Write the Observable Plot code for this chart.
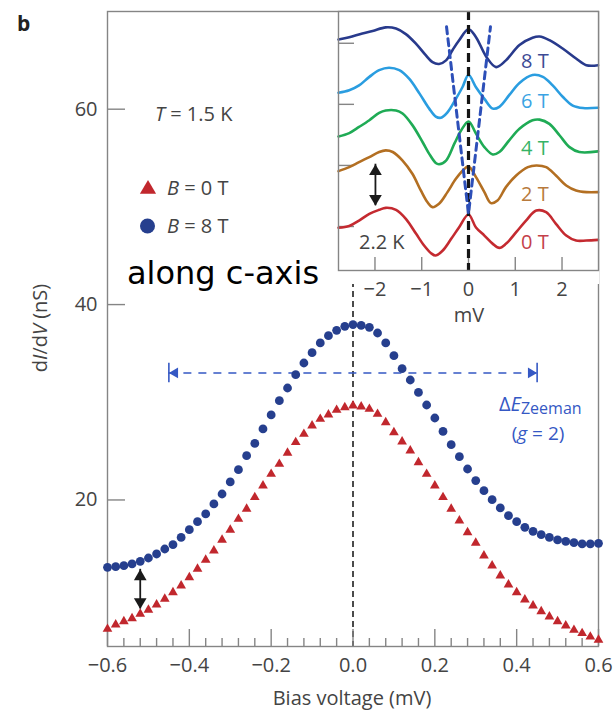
<!DOCTYPE html>
<html><head><meta charset="utf-8">
<script src="https://cdn.jsdelivr.net/npm/d3@7"></script>
<script src="https://cdn.jsdelivr.net/npm/@observablehq/plot@0.6"></script>
<style>
body{margin:0;background:#fff;}
#wrap{position:relative;width:615px;height:711px;overflow:hidden;font-family:"Open Sans",sans-serif;}
#wrap > *{position:absolute;}
</style></head><body><div id="wrap"></div>
<script>
// ---------- main panel data ----------
const biasVoltage = [-0.60,-0.58,-0.56,-0.54,-0.52,-0.50,-0.48,-0.46,-0.44,-0.42,-0.40,-0.38,-0.36,-0.34,-0.32,-0.30,-0.28,-0.26,-0.24,-0.22,-0.20,-0.18,-0.16,-0.14,-0.12,-0.10,-0.08,-0.06,-0.04,-0.02,0.00,0.02,0.04,0.06,0.08,0.10,0.12,0.14,0.16,0.18,0.20,0.22,0.24,0.26,0.28,0.30,0.32,0.34,0.36,0.38,0.40,0.42,0.44,0.46,0.48,0.50,0.52,0.54,0.56,0.58,0.60];
const dIdV_B0 = [6.79,7.24,7.57,7.88,8.33,8.74,9.28,9.87,10.54,11.23,12.08,12.94,13.86,14.81,15.91,16.93,18.05,19.08,20.27,21.46,22.66,23.68,24.81,25.9,26.75,27.6,28.29,28.73,29.21,29.48,29.65,29.55,29.31,28.8,27.94,26.92,25.97,25.05,23.85,22.66,21.46,20.27,19.08,17.88,16.68,15.6,14.3,13.28,12.25,11.33,10.54,9.8,9.18,8.6,8.06,7.57,7.13,6.69,6.35,6.0,5.67];
const dIdV_B8 = [13.1,13.17,13.27,13.45,13.72,14.06,14.47,14.98,15.42,16.17,16.96,17.78,18.57,19.59,20.61,21.85,23.1,24.53,25.79,27.27,28.7,30.16,31.46,32.82,34.02,35.08,36.07,36.82,37.36,37.77,37.95,37.87,37.67,37.09,36.07,34.77,33.44,32.28,31.01,29.72,28.39,27.02,25.66,24.43,23.17,21.98,20.95,20.03,19.18,18.39,17.78,17.2,16.79,16.45,16.17,15.91,15.76,15.63,15.5,15.5,15.56];
const xDomain = [-0.6, 0.6];
const yDomain = [5, 70];
const xTicks = [-0.6,-0.4,-0.2,0.0,0.2,0.4,0.6];
const xMinorTicks = [-0.56,-0.52,-0.48,-0.44,-0.36,-0.32,-0.28,-0.24,-0.16,-0.12,-0.08,-0.04,0.04,0.08,0.12,0.16,0.24,0.28,0.32,0.36,0.44,0.48,0.52,0.56];
const yTicks = [20,40,60];
const zeemanEnds = [-0.45, 0.45];
const zeemanLevel = [33];
const zeemanBar = [32, 34];
const gapArrowX = [-0.52];
const gapArrowEnds = [12.9, 8.84];

// ---------- inset data ----------
const insetXDomain = [-2.78, 2.78];
const insetYDomain = [-7.2, 35.2];
const insetXTicks = [-2,-1,0,1,2];
const insetYTicks = [0,10,20,30];
const mv8T = [-2.78,-2.55,-2.27,-2.05,-1.77,-1.55,-1.34,-1.12,-0.91,-0.77,-0.63,-0.48,-0.34,-0.20,0.0,0.16,0.38,0.59,0.80,1.09,1.37,1.52,1.73,2.02,2.30,2.52,2.77];
const g8T = [30.6,31.0,31.6,32.0,32.6,32.4,31.5,29.9,28.0,26.9,26.6,27.2,28.9,30.5,32.3,31.0,27.8,26.1,27.2,29.7,30.9,31.1,30.5,29.1,27.5,26.4,26.4];
const mv6T = [-2.78,-2.55,-2.34,-2.12,-1.91,-1.70,-1.48,-1.27,-1.05,-0.84,-0.70,-0.59,-0.45,-0.27,-0.13,0.0,0.16,0.34,0.52,0.66,0.87,1.09,1.37,1.59,1.80,2.02,2.23,2.45,2.77];
const g6T = [21.9,22.3,23.1,24.5,25.6,26.0,25.6,24.2,21.8,19.3,18.0,17.8,18.7,20.9,22.8,24.8,22.8,20.9,19.3,19.6,21.5,23.5,24.8,24.5,23.1,21.2,19.8,19.4,19.45];
const mv4T = [-2.78,-2.55,-2.34,-2.12,-1.91,-1.77,-1.55,-1.41,-1.20,-0.98,-0.84,-0.70,-0.63,-0.48,-0.30,-0.16,0.0,0.16,0.34,0.52,0.66,0.87,1.09,1.37,1.52,1.73,1.95,2.16,2.37,2.77];
const g4T = [14.75,15.3,16.3,17.4,18.6,19.0,19.0,18.5,16.6,13.8,11.9,10.4,10.2,10.8,13.6,15.7,17.2,15.2,13.0,11.8,12.2,14.1,16.0,17.4,17.5,16.8,14.9,13.0,12.2,12.3];
const mv2T = [-2.78,-2.55,-2.34,-2.12,-1.91,-1.77,-1.62,-1.41,-1.20,-1.02,-0.88,-0.77,-0.63,-0.45,-0.27,-0.12,0.0,0.16,0.34,0.48,0.62,0.80,1.02,1.27,1.45,1.66,1.87,2.09,2.30,2.52,2.77];
const g2T = [9.07,9.73,10.55,11.37,12.2,12.46,12.2,10.8,8.63,5.9,4.0,3.17,3.72,5.63,7.81,9.18,9.84,8.09,5.63,3.83,4.26,6.45,8.36,9.73,10.0,9.73,8.36,6.72,5.9,5.63,5.63];
const mv0T = [-2.78,-2.55,-2.34,-2.12,-1.91,-1.77,-1.55,-1.34,-1.12,-0.95,-0.80,-0.70,-0.55,-0.37,-0.20,0.0,0.16,0.34,0.52,0.66,0.80,1.02,1.23,1.45,1.66,1.87,2.09,2.30,2.52,2.77];
const g0T = [-0.2,0.1,0.98,2.08,2.73,3.06,2.73,1.26,-1.2,-3.11,-4.37,-4.75,-3.93,-2.02,-0.11,1.97,-0.16,-1.48,-2.84,-3.5,-2.84,-0.93,0.98,2.62,2.35,0.44,-1.48,-2.3,-2.3,-2.19];
const insetFields = ["8 T","6 T","4 T","2 T","0 T"];
const insetColors = ["#283a8c","#2a9de0","#1fab55","#b36f22","#c42a30"];
const insetLabelColors = ["#3d4a95","#3aa3e3","#35b366","#b87a3c","#c4404a"];
const funnelMv = [-0.47, 0.0, 0.47];
const funnelG = [32.7, 2.1, 32.7];
const insetArrowX = [-1.99];
const insetArrowEnds = [10.2, 3.4];

const red = "#c1272d", blue = "#263f8e", zblue = "#3558c4", axisGray = "#858585", textGray = "#444";

// arrowhead symbol with tip at the origin
function head(dir) {
  return {draw(ctx, size) {
    const r = Math.sqrt(size / Math.PI), L = 2.3 * r, w = 1.35 * r;
    let p;
    if (dir === "up") p = [[0,0],[-w,L],[w,L]];
    else if (dir === "down") p = [[0,0],[-w,-L],[w,-L]];
    else if (dir === "left") p = [[0,0],[L,-w],[L,w]];
    else p = [[0,0],[-L,-w],[-L,w]];
    ctx.moveTo(p[0][0],p[0][1]); ctx.lineTo(p[1][0],p[1][1]); ctx.lineTo(p[2][0],p[2][1]); ctx.closePath();
  }};
}

const b0 = biasVoltage.map((v,i) => ({v, g: dIdV_B0[i]}));
const b8 = biasVoltage.map((v,i) => ({v, g: dIdV_B8[i]}));

const mainPlot = Plot.plot({
  width: 615, height: 711,
  marginLeft: 107, marginRight: 17, marginTop: 11, marginBottom: 65,
  x: {domain: xDomain, axis: null}, y: {domain: yDomain, axis: null},
  style: {fontFamily: '"Open Sans", sans-serif', fontSize: "20px", color: textGray, background: "white"},
  marks: [
    Plot.ruleX([0], {x: d => d, stroke: "#4a4a4a", strokeWidth: 2, strokeDasharray: "6,4"}),
    Plot.ruleX(xTicks, {x: d => d, y1: yDomain[0], y2: yDomain[0], insetBottom: 17, stroke: axisGray, strokeWidth: 1.4}),
    Plot.ruleX(xMinorTicks, {x: d => d, y1: yDomain[0], y2: yDomain[0], insetBottom: 8, stroke: axisGray, strokeWidth: 1.4}),
    Plot.ruleY(yTicks, {y: d => d, x1: xDomain[0], x2: xDomain[0], insetLeft: 18, stroke: axisGray, strokeWidth: 1.4}),
    Plot.axisX(xTicks, {tickSize: 0, tickPadding: 11, tickFormat: d3.format(".1f"), label: null, fontSize: 20, fill: textGray}),
    Plot.axisY(yTicks, {tickSize: 0, tickPadding: 10, label: null, fontSize: 20, fill: textGray}),
    Plot.frame({stroke: axisGray, strokeWidth: 1.4}),
    // Zeeman splitting arrow
    Plot.ruleY(zeemanLevel, {y: d => d, x1: zeemanEnds[0], x2: zeemanEnds[1], stroke: zblue, strokeWidth: 1.6, strokeDasharray: "8,7"}),
    Plot.ruleX(zeemanEnds, {x: d => d, y1: zeemanBar[0], y2: zeemanBar[1], stroke: zblue, strokeWidth: 1.6}),
    Plot.dot(zeemanEnds, {x: d => d, y: zeemanLevel[0], symbol: d => d < 0 ? head("left") : head("right"), r: 4, fill: zblue, stroke: "none"}),
    // gap arrow
    Plot.ruleX(gapArrowX, {x: d => d, y1: gapArrowEnds[0], y2: gapArrowEnds[1], stroke: "#1a1a1a", strokeWidth: 1.8}),
    Plot.dot(gapArrowEnds, {x: gapArrowX[0], y: d => d, symbol: (d, i) => i === 0 ? head("up") : head("down"), r: 4.7, fill: "#1a1a1a", stroke: "none"}),
    // data
    Plot.dot(b0, {x: "v", y: "g", symbol: "triangle", r: 3.6, fill: red, stroke: "none"}),
    Plot.dot(b8, {x: "v", y: "g", symbol: "circle", r: 4.4, fill: blue, stroke: "none"})
  ]
});

const insetSeries = [];
[[mv8T,g8T],[mv6T,g6T],[mv4T,g4T],[mv2T,g2T],[mv0T,g0T]].forEach(([m,g], k) => {
  m.forEach((v,i) => insetSeries.push({field: insetFields[k], mv: v, g: g[i]}));
});
const funnel = funnelMv.map((v,i) => ({mv: v, g: funnelG[i]}));

const insetPlot = Plot.plot({
  width: 280, height: 330,
  marginLeft: 10, marginRight: 10, marginTop: 11, marginBottom: 60,
  x: {domain: insetXDomain, axis: null}, y: {domain: insetYDomain, axis: null},
  color: {domain: insetFields, range: insetColors},
  style: {fontFamily: '"Open Sans", sans-serif', fontSize: "20px", color: textGray, background: "transparent"},
  marks: [
    Plot.ruleX(insetXTicks, {x: d => d, y1: insetYDomain[0], y2: insetYDomain[0], insetBottom: 13, stroke: axisGray, strokeWidth: 1.4}),
    Plot.ruleY(insetYTicks, {y: d => d, x1: insetXDomain[0], x2: insetXDomain[0], insetLeft: 16, stroke: axisGray, strokeWidth: 1.4}),
    Plot.axisX(insetXTicks, {tickSize: 0, tickPadding: 11, label: null, fontSize: 20, fill: textGray}),
    Plot.line(insetSeries, {x: "mv", y: "g", z: "field", stroke: "field", strokeWidth: 2.6, curve: "catmull-rom"}),
    Plot.ruleX([0], {x: d => d, stroke: "#151515", strokeWidth: 3.2, strokeDasharray: "9,5"}),
    Plot.line(funnel, {x: "mv", y: "g", stroke: "#2d4fb8", strokeWidth: 3, strokeDasharray: "7,5"}),
    Plot.ruleX(insetArrowX, {x: d => d, y1: insetArrowEnds[0], y2: insetArrowEnds[1], stroke: "#1a1a1a", strokeWidth: 1.8}),
    Plot.dot(insetArrowEnds, {x: insetArrowX[0], y: d => d, symbol: (d, i) => i === 0 ? head("up") : head("down"), r: 4.7, fill: "#1a1a1a", stroke: "none"}),
    Plot.frame({stroke: axisGray, strokeWidth: 1.4})
  ]
});

const wrap = document.getElementById("wrap");
mainPlot.style.left = "0px"; mainPlot.style.top = "0px";
wrap.appendChild(mainPlot);
const cover = document.createElement("div");
Object.assign(cover.style, {left: "338px", top: "11px", width: "261px", height: "273px", background: "white"});
wrap.appendChild(cover);
insetPlot.style.left = "328px"; insetPlot.style.top = "0px";
wrap.appendChild(insetPlot);

// ---------- annotations ----------
const ov = d3.select(wrap).append("svg").attr("width", 615).attr("height", 711)
  .style("left", "0px").style("top", "0px")
  .attr("font-family", '"Open Sans", sans-serif').attr("font-size", 20).attr("fill", textGray);
function txt(x, y, parts, attrs = {}) {
  const t = ov.append("text").attr("x", x).attr("y", y);
  for (const k in attrs) t.attr(k, attrs[k]);
  for (const p of parts) {
    const s = t.append("tspan").text(p[0]);
    const a = p[1] || {};
    for (const k in a) s.attr(k, a[k]);
  }
  return t;
}
txt(17, 31, [["b"]], {"font-weight": "bold", "font-size": 21, fill: "#222"});
txt(155, 121, [["T", {"font-style": "italic"}], [" = 1.5 K"]]);
ov.append("path").attr("d", d3.symbol(head("up"), Math.PI * 36)).attr("transform", "translate(148,180)").attr("fill", red);
ov.append("circle").attr("cx", 147.5).attr("cy", 226).attr("r", 7.5).attr("fill", blue);
txt(167, 195, [["B", {"font-style": "italic"}], [" = 0 T"]]);
txt(167, 233, [["B", {"font-style": "italic"}], [" = 8 T"]]);
txt(127, 284, [["along c-axis"]], {"font-family": '"DejaVu Sans", sans-serif', "font-size": 32, fill: "#000"});
ov.append("text").attr("transform", "translate(47,328) rotate(-90)").attr("text-anchor", "middle")
  .call(t => { t.append("tspan").text("d"); t.append("tspan").attr("font-style","italic").text("I");
    t.append("tspan").text("/d"); t.append("tspan").attr("font-style","italic").text("V"); t.append("tspan").text(" (nS)"); });
txt(352, 705, [["Bias voltage (mV)"]], {"text-anchor": "middle"});
txt(469, 322, [["mV"]], {"text-anchor": "middle"});
txt(499, 411, [["Δ"], ["E", {"font-style": "italic"}], ["Zeeman", {"font-size": 16, dy: 3}]], {fill: zblue});
txt(538, 440, [["("], ["g", {"font-style": "italic"}], [" = 2)"]], {fill: zblue, "text-anchor": "middle", "font-size": 19});
const labelBase = [68, 108, 155, 201, 249];
insetFields.forEach((f, i) => txt(521, labelBase[i], [[f]], {fill: insetLabelColors[i]}));
txt(359, 249, [["2.2 K"]]);
</script></body></html>
